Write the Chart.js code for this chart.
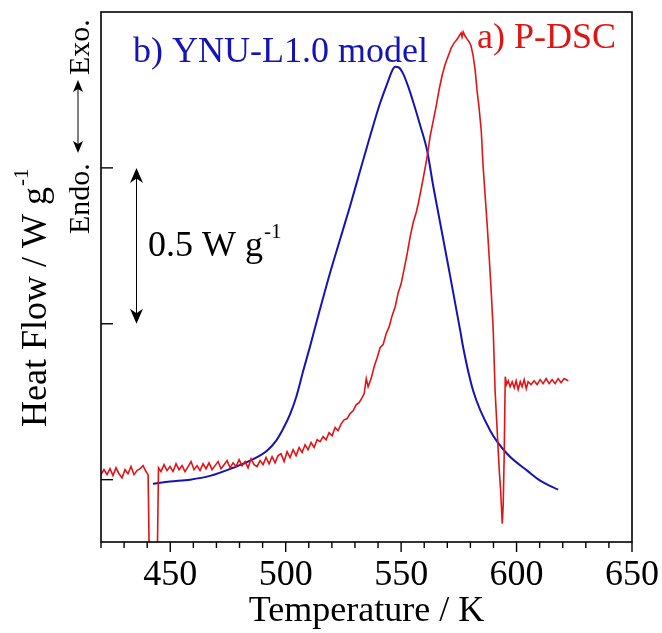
<!DOCTYPE html>
<html>
<head>
<meta charset="utf-8">
<script src="https://cdn.jsdelivr.net/npm/chart.js@4.4.1/dist/chart.umd.min.js"></script>
<style>
  html, body { margin: 0; padding: 0; background: #fff; }
  #wrap { position: relative; width: 662px; height: 633px; }
</style>
</head>
<body>
<div id="wrap"><canvas id="dsc"></canvas></div>
<script>
// P-DSC measurement (red)
const tempDsc = [
  420.0, 421.3, 422.6, 423.9, 425.2, 426.5, 427.8, 429.1, 430.4, 431.7, 433.0, 434.3, 435.6, 436.9, 438.2, 439.5, 440.4,
  441.0, 444.3,
  444.9, 446.0, 447.3, 448.6, 449.9, 451.2, 452.5, 453.8, 455.1, 456.4, 457.7, 459.0, 460.3, 461.6, 462.9, 464.2, 465.5,
  466.8, 468.1, 469.4, 470.7, 472.0, 473.3, 474.6, 475.9, 477.2, 478.5, 479.8, 481.1, 482.4, 483.7, 485.0, 486.3, 487.6,
  488.9, 490.2, 491.5, 492.8, 494.1, 495.4, 496.7, 498.0, 499.3, 500.6, 501.9, 503.2, 504.5, 505.8, 507.1, 508.4, 509.7,
  511.0, 512.3, 513.6, 514.9, 516.2, 517.5, 518.8, 520.1, 521.4, 522.7, 524.0, 525.3, 526.6, 527.9, 529.2, 530.5, 531.8,
  533.1, 534.0, 534.9, 535.7, 537.0, 538.3, 539.6, 540.9, 542.2, 543.5, 544.8, 546.1, 547.4, 548.7, 550.0, 551.3, 552.6,
  553.9, 555.2, 556.5, 557.4, 558.7, 560.0, 561.3, 562.6, 563.9, 565.2, 566.5, 567.8, 569.1, 570.4, 571.7, 573.0, 574.3,
  575.1, 576.0, 576.4, 576.9, 577.7, 578.6, 579.5, 580.3, 581.2, 582.1, 582.9, 583.8, 584.7, 585.5, 586.4, 587.3, 588.1,
  589.0, 589.9, 590.7, 591.6, 592.5, 593.1, 593.8, 594.2, 594.6, 595.1, 595.7, 596.4, 597.2, 598.1, 599.0, 599.8, 600.7,
  601.6, 602.4, 603.3, 604.2, 605.0, 606.3, 607.6, 608.9, 610.2, 611.5, 612.8, 614.1, 615.4, 616.7, 618.0, 619.3, 620.6,
  622.4
];
const heatDsc = [
  0.016, 0.032, 0.016, 0.035, 0.013, 0.038, 0.019, 0.006, 0.032, 0.019, 0.042, 0.016, 0.029, 0.035, 0.045, 0.026, 0.016,
  -0.30, -0.30,
  0.038, 0.026, 0.048, 0.029, 0.042, 0.026, 0.051, 0.032, 0.045, 0.026, 0.042, 0.058, 0.032, 0.045, 0.029, 0.051, 0.035,
  0.054, 0.032, 0.045, 0.058, 0.035, 0.048, 0.061, 0.038, 0.054, 0.042, 0.064, 0.045, 0.058, 0.038, 0.067, 0.048, 0.042,
  0.061, 0.048, 0.071, 0.051, 0.074, 0.054, 0.077, 0.083, 0.058, 0.090, 0.071, 0.096, 0.077, 0.103, 0.087, 0.112, 0.096,
  0.119, 0.103, 0.128, 0.122, 0.138, 0.128, 0.151, 0.141, 0.167, 0.157, 0.179, 0.192, 0.196, 0.212, 0.221, 0.240, 0.247,
  0.263, 0.276, 0.324, 0.298, 0.324, 0.362, 0.391, 0.423, 0.433, 0.468, 0.490, 0.526, 0.554, 0.599, 0.628, 0.676, 0.724,
  0.779, 0.824, 0.856, 0.885, 0.933, 0.984, 1.038, 1.103, 1.151, 1.199, 1.253, 1.298, 1.333, 1.359, 1.385, 1.401, 1.413,
  1.423, 1.433, 1.420, 1.436, 1.423, 1.413, 1.404, 1.391, 1.359, 1.311, 1.247, 1.189, 1.119, 1.006, 0.910, 0.814, 0.718,
  0.606, 0.478, 0.285, 0.157, 0.029, -0.035, -0.141, -0.083, 0.061, 0.330, 0.305, 0.317, 0.298, 0.314, 0.295, 0.317, 0.289,
  0.314, 0.298, 0.321, 0.292, 0.314, 0.305, 0.317, 0.305, 0.321, 0.308, 0.324, 0.308, 0.321, 0.308, 0.324, 0.311, 0.324,
  0.317
];

// YNU-L1.0 model (blue)
const tempModel = [
  442.5, 449.9, 458.6, 467.2, 477.2, 484.6, 491.9, 495.9, 498.9, 502.0, 504.6, 507.6, 510.6, 514.9, 519.2, 523.6,
  527.9, 532.2, 536.6, 540.9, 544.4, 546.0, 547.4, 549.0, 551.0, 553.0, 555.2, 558.3, 561.3, 563.9, 566.9, 570.0,
  575.6, 576.9, 581.2, 588.6, 595.9, 604.6, 610.2, 618.0
];
const heatModel = [
  -0.013, -0.006, 0.000, 0.012, 0.038, 0.061, 0.093, 0.125, 0.163, 0.212, 0.266, 0.349, 0.429, 0.548, 0.663, 0.772,
  0.878, 0.990, 1.103, 1.208, 1.279, 1.310, 1.324, 1.322, 1.300, 1.262, 1.212, 1.135, 1.054, 0.942, 0.824, 0.702,
  0.478, 0.423, 0.285, 0.157, 0.083, 0.029, -0.003, -0.032
];

const xMajor = [450, 500, 550, 600, 650];
const yTickVals = [0, 0.5, 1.0];

const SERIF = '"Liberation Serif", "Times New Roman", serif';
const BLUE = '#1414b4';
const RED = '#e01414';

function toPoints(xs, ys) {
  return xs.map((x, i) => ({ x, y: ys[i] }));
}

// text with superscript, drawn at current transform
function supText(ctx, main, sup, x, y, size, supSize, raise) {
  ctx.font = size + 'px ' + SERIF;
  ctx.fillText(main, x, y);
  const w = ctx.measureText(main).width;
  ctx.font = supSize + 'px ' + SERIF;
  ctx.fillText(sup, x + w + 1, y - raise);
}

function arrowHead(ctx, x, y, dir, w, len) {
  // dir: +1 points down, -1 points up (along y)
  ctx.beginPath();
  ctx.moveTo(x, y);
  ctx.lineTo(x - w / 2, y - dir * len);
  ctx.lineTo(x, y - dir * len * 0.7);
  ctx.lineTo(x + w / 2, y - dir * len);
  ctx.closePath();
  ctx.fill();
}

const decor = {
  id: 'decor',
  afterDraw(chart) {
    const { ctx, chartArea: a, scales: { x, y } } = chart;
    ctx.save();
    ctx.strokeStyle = '#000';
    ctx.fillStyle = '#000';

    // frame
    ctx.lineWidth = 1.6;
    ctx.strokeRect(a.left, a.top, a.right - a.left, a.bottom - a.top);

    // x ticks (outward), minor every 10
    ctx.lineWidth = 1.4;
    for (let t = x.min; t <= x.max; t += 10) {
      const px = x.getPixelForValue(t);
      const len = xMajor.includes(t) ? 10 : 6;
      ctx.beginPath();
      ctx.moveTo(px, a.bottom);
      ctx.lineTo(px, a.bottom + len);
      ctx.stroke();
    }
    // y ticks (inward)
    yTickVals.forEach(v => {
      const py = y.getPixelForValue(v);
      ctx.beginPath();
      ctx.moveTo(a.left, py);
      ctx.lineTo(a.left + 12, py);
      ctx.stroke();
    });

    // 0.5 W g-1 scale arrow
    const ax = 136.5;
    const yTop = y.getPixelForValue(1.0);
    const yBot = y.getPixelForValue(0.5);
    ctx.lineWidth = 1;
    ctx.beginPath();
    ctx.moveTo(ax, yTop + 8);
    ctx.lineTo(ax, yBot - 8);
    ctx.stroke();
    arrowHead(ctx, ax, yTop, -1, 13, 15);
    arrowHead(ctx, ax, yBot, 1, 13, 15);
    ctx.textBaseline = 'alphabetic';
    ctx.textAlign = 'left';
    supText(ctx, '0.5 W g', '-1', 148, 256, 36, 21, 18);

    // series labels
    ctx.font = '36px ' + SERIF;
    ctx.fillStyle = BLUE;
    ctx.fillText('b) YNU-L1.0 model', 133, 62);
    ctx.fillStyle = RED;
    ctx.fillText('a) P-DSC', 477, 48);

    // y axis title
    ctx.fillStyle = '#000';
    ctx.save();
    ctx.translate(46, 427);
    ctx.rotate(-Math.PI / 2);
    supText(ctx, 'Heat Flow / W g', '-1', 0, 0, 36, 21, 18);
    ctx.restore();

    // Endo. <-> Exo.
    ctx.save();
    ctx.translate(89, 234);
    ctx.rotate(-Math.PI / 2);
    ctx.font = '30px ' + SERIF;
    ctx.fillText('Endo.', 0, 0);
    const s = 81, e = 154, cy = -11;
    ctx.lineWidth = 1;
    ctx.beginPath();
    ctx.moveTo(s + 6, cy);
    ctx.lineTo(e - 6, cy);
    ctx.stroke();
    ctx.beginPath();
    ctx.moveTo(s, cy); ctx.lineTo(s + 12, cy - 5); ctx.lineTo(s + 9, cy); ctx.lineTo(s + 12, cy + 5); ctx.closePath(); ctx.fill();
    ctx.beginPath();
    ctx.moveTo(e, cy); ctx.lineTo(e - 12, cy - 5); ctx.lineTo(e - 9, cy); ctx.lineTo(e - 12, cy + 5); ctx.closePath(); ctx.fill();
    ctx.fillText('Exo.', 159, 0);
    ctx.restore();

    ctx.restore();
  }
};

new Chart(document.getElementById('dsc'), {
  type: 'scatter',
  data: {
    datasets: [
      { label: 'a) P-DSC', data: toPoints(tempDsc, heatDsc), showLine: true, borderColor: RED, borderWidth: 1.6, pointRadius: 0, tension: 0 },
      { label: 'b) YNU-L1.0 model', data: toPoints(tempModel, heatModel), showLine: true, borderColor: BLUE, borderWidth: 2, pointRadius: 0, cubicInterpolationMode: 'monotone' },
    ],
  },
  options: {
    responsive: true, maintainAspectRatio: false, animation: false,
    layout: { padding: { left: 0, right: 30, top: 12, bottom: 0 } },
    plugins: { legend: { display: false }, tooltip: { enabled: false } },
    scales: {
      x: {
        type: 'linear', min: 420, max: 650,
        border: { display: false },
        grid: { display: false, drawTicks: false },
        ticks: {
          stepSize: 10, autoSkip: false, maxRotation: 0, padding: 12, color: '#000',
          font: { family: SERIF, size: 36 },
          callback: v => (xMajor.includes(v) ? String(v) : ''),
        },
        title: { display: true, text: 'Temperature / K', color: '#000', font: { family: SERIF, size: 36 }, padding: { top: 0, bottom: 0 } },
        afterFit: s => { s.height = 91; s.paddingLeft = 0; s.paddingRight = 0; },
      },
      y: {
        type: 'linear', min: -0.2, max: 1.5,
        border: { display: false },
        grid: { display: false },
        ticks: { display: false },
        afterFit: s => { s.width = 101; },
      },
    },
  },
  plugins: [decor],
});
</script>
</body>
</html>
